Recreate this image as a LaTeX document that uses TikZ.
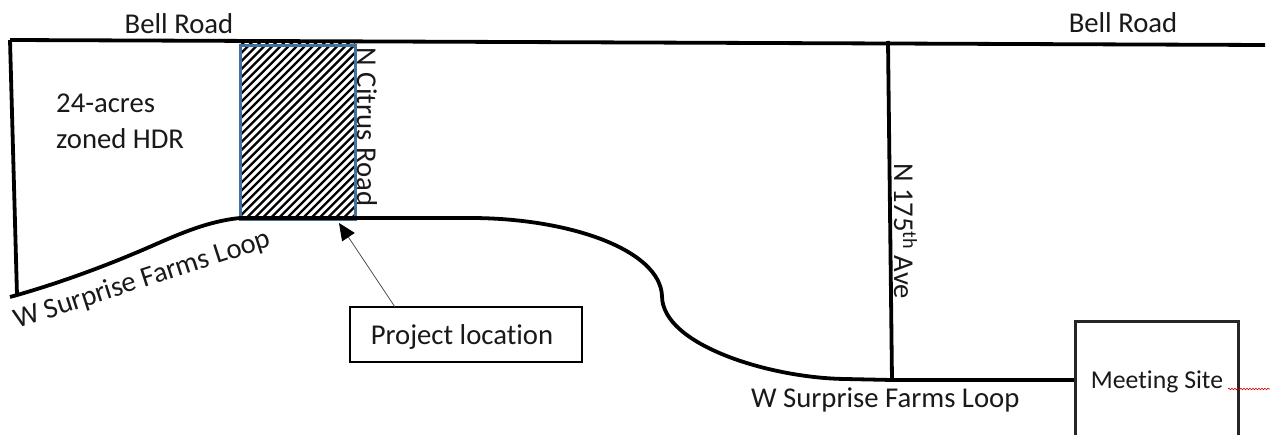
\documentclass[tikz,border=0pt]{standalone}
\usepackage{fontspec}
\setmainfont[Ligatures=NoCommon]{Carlito}
\usetikzlibrary{arrows.meta,decorations.pathmorphing}
\tikzset{
  road/.style={draw=black,line width=3.8pt},
  txt/.style={inner sep=0pt,text=black!90,font=\fontsize{28.7}{34}\selectfont},
  boxed/.style={draw=black,line width=1.6pt,fill=white},
  hatchline/.style={draw=black,line width=2.3pt},
  site/.style={draw=black!85,line width=3pt},
}
\definecolor{siteblue}{HTML}{41719C}
\begin{document}
\begin{tikzpicture}[x=1pt,y=-1pt]
\useasboundingbox (0,0) rectangle (1270,435);
\fill[white] (0,0) rectangle (1270,435);
% road end points
\coordinate (tl) at (10,40);
\coordinate (tr) at (1265,45);
\coordinate (bl) at (17,295);
\coordinate (sw) at (10,297);
\coordinate (a) at (240,218);
\coordinate (b) at (355,218);
\coordinate (c) at (662,296);
\coordinate (d) at (892,380);
\coordinate (e) at (888,41);
\coordinate (f) at (1075,380);
% hatched parcel
\begin{scope}
\clip (239,44) rectangle (355,218);
\foreach \k in {0,...,50} {
  \draw[hatchline] (240+\k*8.1,30) -- ++(-200,200);
}
\end{scope}
\node[draw=siteblue,line width=3pt,minimum width=115pt,minimum height=174pt,inner sep=0pt,anchor=north west] (parcel) at (239,44) {};
% roads
\draw[road] (tl) -- (tr);
\draw[road] (tl) -- (bl);
\draw[road] (sw) .. controls (50,286) and (95,270) .. (133,254)
   .. controls (165,241) and (200,222) .. (a) -- (b)
   -- (470,218) .. controls (570,218) and (660,250) .. (c)
   .. controls (662,345) and (770,378) .. (845,379) -- (d);
\draw[road] (e) -- (d);
\draw[road] (d) -- (f);
% meeting site
\draw[site] (1075,440) -- (1075,322) -- (1238,322) -- (1238,440);
\node[txt,font=\fontsize{25.7}{30}\selectfont,anchor=base] (ms) at (1157,389) {Meeting Site};
\coordinate (sq1) at (1228,389);
\coordinate (sq2) at (1270,389);
\draw[red!80!black,line width=0.6pt,decorate,decoration={snake,amplitude=0.8pt,segment length=3pt}] (sq1) -- (sq2);
% project location
\node[boxed,minimum width=232pt,minimum height=55pt,inner sep=0pt,anchor=north west] (pl) at (349,306) {};
\node[txt,anchor=base] (pltext) at (462,345) {Project location};
\coordinate (ps) at (395,307);
\coordinate (pe) at (339,223);
\draw[black!70,line width=0.8pt,-{Triangle[color=black,fill=black,length=17pt,width=15pt]}] (ps) -- (pe);
% labels
\node[txt,anchor=base] (bell1) at (179,34) {Bell Road};
\node[txt,anchor=base] (bell2) at (1123,33) {Bell Road};
\node[txt,anchor=base west] (acres1) at (56,113) {24-acres};
\node[txt,anchor=base west] (acres2) at (56,149) {zoned HDR};
\node[txt,anchor=base,rotate=-90] (citrus) at (357,127) {N Citrus Road};
\node[txt,anchor=base,rotate=-90] (ave) at (894,231) {N 175\textsuperscript{th} Ave};
\node[txt,anchor=base west,rotate=18] (wsf1) at (17,329) {W Surprise Farms Loop};
\node[txt,anchor=base west] (wsf2) at (751,408) {W Surprise Farms Loop};
\end{tikzpicture}
\end{document}
